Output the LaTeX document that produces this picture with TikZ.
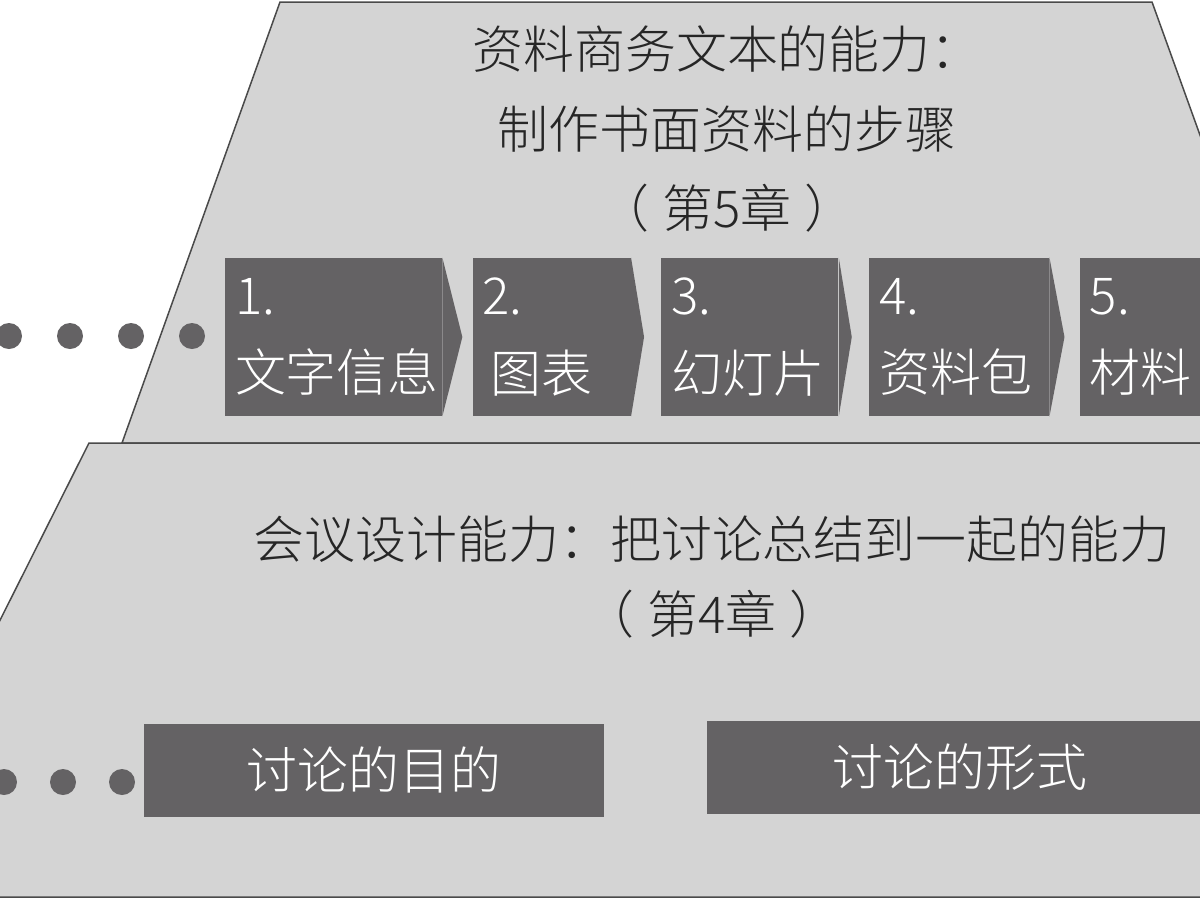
\documentclass[tikz,border=0pt]{standalone}
\usepackage{fontspec}
\setmainfont{Noto Sans CJK SC}[UprightFont=* Light]
\usetikzlibrary{positioning}
\definecolor{panelgrey}{HTML}{D4D4D4}
\definecolor{boxgrey}{HTML}{646264}
\definecolor{edgegrey}{HTML}{4A4A4A}
\definecolor{inkgrey}{HTML}{262626}

\begin{document}
\begin{tikzpicture}[x=0.2mm,y=-0.2mm,node distance=6mm]
        \tikzstyle{panel}=[fill=panelgrey,draw=edgegrey,line width=0.3mm]
        \tikzstyle{stepbox}=[fill=boxgrey,text=white,align=left,inner xsep=2mm,inner ysep=0pt,minimum height=31.6mm,font=\fontsize{29}{44}\selectfont]
        \tikzstyle{topicbox}=[fill=boxgrey,text=white,inner sep=0pt,minimum height=18.6mm,font=\fontsize{29}{35}\selectfont]
        \tikzstyle{heading}=[text=inkgrey,align=center,font=\fontsize{29}{45}\selectfont]
        \tikzstyle{dot}=[circle,fill=boxgrey,inner sep=0pt,minimum size=5.2mm]
        \clip (0,0) rectangle (1200,900);
        \fill[white] (0,0) rectangle (1200,900);
        % upper panel (chapter 5)
        \draw[panel] (280,2) -- (1152,2) -- (1311,443) -- (122,443) -- cycle;
        % lower panel (chapter 4)
        \draw[panel] (89,443) -- (1320,443) -- (1320,897) -- (-139,897) -- cycle;
        \node[heading] (ch5) at (727,129) {资料商务文本的能力：\\制作书面资料的步骤\\（\hspace{2.5mm}第5章\hspace{2.5mm}）};
        \node[heading,font=\fontsize{29}{43}\selectfont] (ch4) at (712,577) {会议设计能力：把讨论总结到一起的能力\\（\hspace{2.5mm}第4章\hspace{2.5mm}）};
        % steps
        \node[stepbox,text width=39.4mm] (s1) at (333.5,337) {1.\\文字信息};
        \node[stepbox,text width=27.6mm,right=of s1] (s2) {2.\\\hspace{1.5mm}图表};
        \node[stepbox,text width=31.4mm,right=of s2] (s3) {3.\\幻灯片};
        \node[stepbox,text width=32mm,right=of s3] (s4) {4.\\资料包};
        \node[stepbox,text width=40mm,right=of s4] (s5) {5.\\材料};
        \foreach \s/\t in {s1/4mm,s2/2.6mm,s3/2.6mm,s4/3mm}
            \fill[boxgrey] (\s.north east) -- ([xshift=\t]\s.east) -- (\s.south east) -- cycle;
        % dots
        \foreach \i in {0,...,3}
            \node[dot] (u\i) at (192-61*\i,336) {};
        \foreach \i in {0,...,2}
            \node[dot] (l\i) at (122-59*\i,782) {};
        \node[topicbox,minimum width=92mm] (goal) at (374,770) {讨论的目的};
        \node[topicbox,minimum width=101.2mm] (form) at (960,767) {讨论的形式};
    \end{tikzpicture}
\end{document}
